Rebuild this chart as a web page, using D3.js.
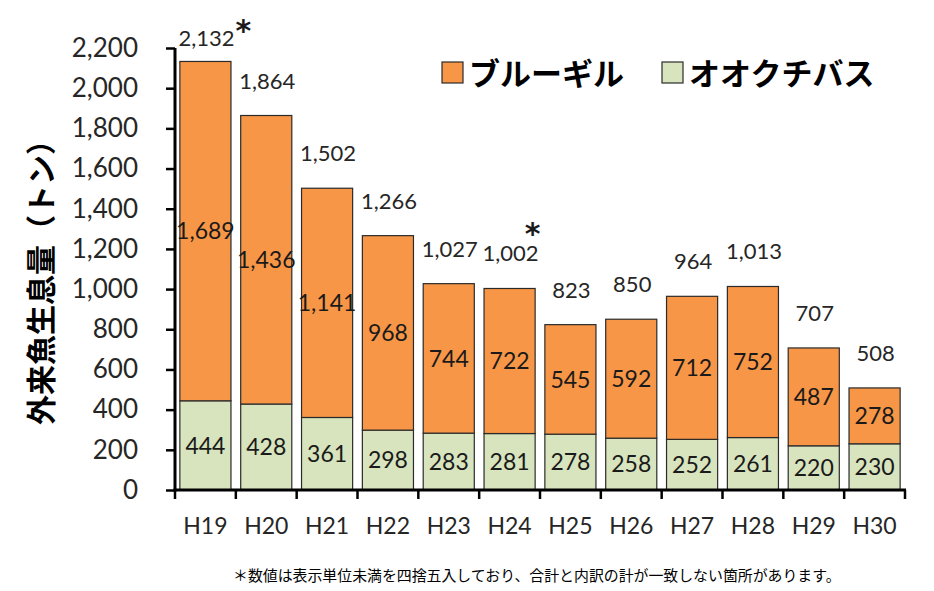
<!DOCTYPE html>
<html><head><meta charset="utf-8">
<script src="https://cdn.jsdelivr.net/npm/d3@7"></script>
<style>
html,body{margin:0;padding:0;background:#fff;}
svg{display:block;}
</style></head>
<body>
<svg id="c" width="934" height="591"></svg>
<script>
const categories = ["H19","H20","H21","H22","H23","H24","H25","H26","H27","H28","H29","H30"];
const bass = [444,428,361,298,283,281,278,258,252,261,220,230];
const bluegill = [1689,1436,1141,968,744,722,545,592,712,752,487,278];
const totals = [2132,1864,1502,1266,1027,1002,823,850,964,1013,707,508];
const starred = ["H19","H24"];
const yTicks = [0,200,400,600,800,1000,1200,1400,1600,1800,2000,2200];
const seriesNames = ["ブルーギル","オオクチバス"];
const yTitle = "外来魚生息量（トン）";
const footnote = "＊数値は表示単位未満を四捨五入しており、合計と内訳の計が一致しない箇所があります。";

const colors = {bluegill:"#F79646", bass:"#D7E4BD"};
const fnt = "Lato, 'Open Sans', 'Noto Sans CJK JP', sans-serif";
const cjk = "'Noto Sans CJK JP', sans-serif";

const svg = d3.select("#c");
const x = d3.scaleBand().domain(categories).range([175,905]).paddingInner(0.16).paddingOuter(0.08);
const y = d3.scaleLinear().domain([0,2200]).range([490,48]);
const fmt = d3.format(",");

const data = categories.map((c,i)=>({c, bass:bass[i], bluegill:bluegill[i], total:totals[i]}));

// bars
const g = svg.append("g");
g.selectAll("rect.bass").data(data).join("rect")
  .attr("x", d=>x(d.c)).attr("width", x.bandwidth())
  .attr("y", d=>y(d.bass)).attr("height", d=>y(0)-y(d.bass))
  .attr("fill", colors.bass).attr("stroke","#2b2b2b").attr("stroke-width",1.2);
g.selectAll("rect.bg").data(data).join("rect")
  .attr("x", d=>x(d.c)).attr("width", x.bandwidth())
  .attr("y", d=>y(d.bass+d.bluegill)).attr("height", d=>y(d.bass)-y(d.bass+d.bluegill))
  .attr("fill", colors.bluegill).attr("stroke","#2b2b2b").attr("stroke-width",1.2);

// segment labels
g.selectAll("text.bl").data(data).join("text")
  .attr("x", d=>x(d.c)+x.bandwidth()/2)
  .attr("y", d=>(y(d.bass)+y(0))/2)
  .attr("dy","0.36em").attr("text-anchor","middle")
  .attr("font-family",fnt).attr("font-size",23).attr("fill","#1a1a1a")
  .text(d=>fmt(d.bass));
g.selectAll("text.gl").data(data).join("text")
  .attr("x", d=>x(d.c)+x.bandwidth()/2)
  .attr("y", d=>(y(d.bass)+y(d.bass+d.bluegill))/2)
  .attr("dy","0.36em").attr("text-anchor","middle")
  .attr("font-family",fnt).attr("font-size",23).attr("fill","#1a1a1a")
  .text(d=>fmt(d.bluegill));

// total labels
const totY = d=>Math.max(y(d.bass+d.bluegill)-27, 46);
g.selectAll("text.tl").data(data).join("text")
  .attr("x", d=>x(d.c)+x.bandwidth()/2+1)
  .attr("y", totY)
  .attr("text-anchor","middle")
  .attr("font-family",fnt).attr("font-size",22).attr("fill","#262626")
  .text(d=>fmt(d.total));

// asterisks
data.filter(d=>starred.includes(d.c)).forEach(d=>{
  const cx = x(d.c)+x.bandwidth()/2;
  const first = d.c===categories[0];
  svg.append("text")
    .attr("x", first ? cx+38 : cx+23)
    .attr("y", first ? totY(d)-5 : totY(d)-17)
    .attr("text-anchor","middle")
    .attr("font-family","'DejaVu Sans', sans-serif").attr("font-weight","bold")
    .attr("font-size",30).attr("fill","#1a1a1a").text("*");
});

// y axis
const ya = svg.append("g").attr("transform","translate(175,0)")
  .call(d3.axisLeft(y).tickValues(yTicks).tickFormat(fmt).tickSize(9).tickPadding(28));
ya.select(".domain").attr("stroke","#000").attr("stroke-width",3).attr("d","M0,48V491.5");
ya.selectAll(".tick line").attr("stroke","#000").attr("stroke-width",2.5);
ya.selectAll(".tick text").attr("font-family",fnt).attr("font-size",26).attr("fill","#262626");

// x axis
const xa = svg.append("g").attr("transform","translate(0,490)")
  .call(d3.axisBottom(x).tickSize(0).tickPadding(28));
xa.select(".domain").attr("stroke","#000").attr("stroke-width",3).attr("d","M173.5,0H906");
xa.selectAll(".tick text").attr("font-family",fnt).attr("font-size",23).attr("fill","#262626");
// category boundary ticks
const bounds = categories.map(c=>x(c)-x.step()*x.paddingInner()/2).concat([x.range()[1]]);
bounds[0] = x.range()[0];
xa.selectAll("line.bt").data(bounds).join("line")
  .attr("x1",d=>d).attr("x2",d=>d).attr("y1",0).attr("y2",9)
  .attr("stroke","#000").attr("stroke-width",2.5);

// y title
svg.append("text")
  .attr("transform","translate(52,275) rotate(-90)")
  .attr("text-anchor","middle")
  .attr("font-family",cjk).attr("font-weight","bold").attr("font-size",30).attr("fill","#000")
  .text(yTitle);

// legend
const leg = svg.append("g");
const legItems = [{n:seriesNames[0],c:colors.bluegill,x:442},{n:seriesNames[1],c:colors.bass,x:662}];
legItems.forEach(it=>{
  leg.append("rect").attr("x",it.x).attr("y",62).attr("width",21).attr("height",21)
    .attr("fill",it.c).attr("stroke","#2b2b2b").attr("stroke-width",1.2);
  leg.append("text").attr("x",it.x+27).attr("y",84.5)
    .attr("font-family",cjk).attr("font-weight","bold").attr("font-size",31).attr("fill","#000")
    .text(it.n);
});

// footnote
svg.append("text").attr("x",233).attr("y",581)
  .attr("font-family",cjk).attr("font-size",14.9).attr("fill","#000")
  .text(footnote);
</script>
</body></html>
